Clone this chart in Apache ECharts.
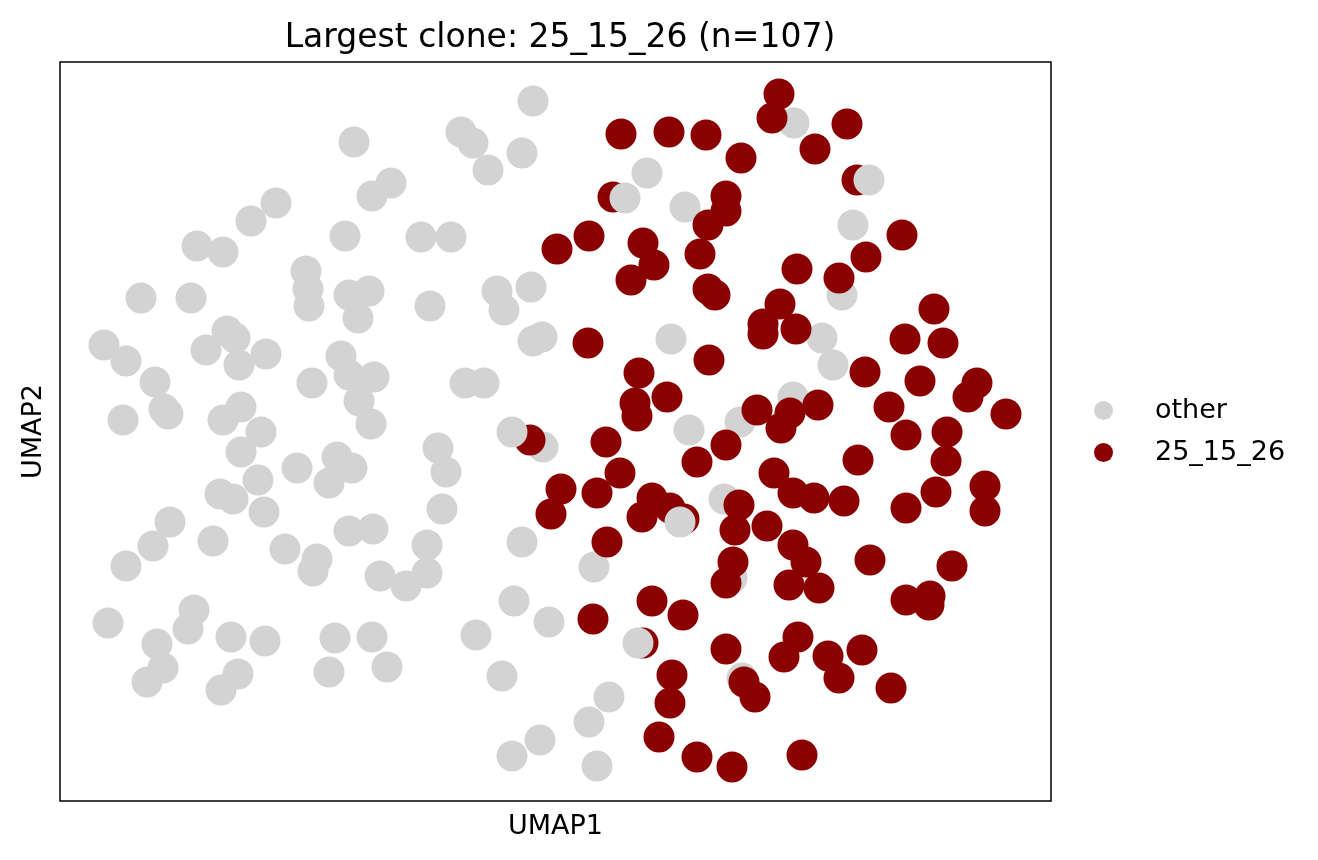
<!DOCTYPE html>
<html>
<head>
<meta charset="utf-8">
<script src="https://cdn.jsdelivr.net/npm/echarts@6/dist/echarts.min.js"></script>
<style>
  html, body { margin: 0; padding: 0; background: #fff; }
  #chart { width: 1318px; height: 860px; }
</style>
</head>
<body>
<div id="chart"></div>
<script>
'use strict';

// UMAP coordinates (arbitrary units, y grows downwards)
var titleText = 'Largest clone: 25_15_26 (n=107)';
var legendNames = ['other', '25_15_26'];

// cells outside the clone, drawn below the clone
var otherBack = [
    [533,101],[461,132],[473,143],[354,142],[522,153],[488,170],[391,183],[372,196],
    [276,203],[251,221],[197,246],[223,252],[345,236],[421,237],[451,237],[306,271],
    [308,289],[309,306],[349,295],[369,291],[358,318],[141,298],[191,298],[430,306],
    [497,291],[531,287],[504,310],[104,345],[126,361],[227,331],[235,338],[206,350],
    [266,354],[239,365],[341,356],[349,375],[374,377],[312,383],[155,382],[164,409],
    [168,414],[123,420],[241,407],[223,420],[359,401],[371,424],[261,432],[533,341],
    [542,337],[465,383],[484,383],[543,447],[438,448],[446,472],[442,509],[241,452],
    [297,468],[337,457],[352,468],[329,483],[258,480],[220,494],[233,499],[264,512],
    [170,522],[153,546],[126,566],[213,541],[285,549],[317,559],[313,571],[349,531],
    [373,529],[380,576],[406,586],[427,545],[427,573],[522,542],[594,567],[514,601],
    [549,622],[108,623],[194,610],[188,629],[157,644],[163,668],[147,682],[231,637],
    [265,641],[238,674],[221,690],[335,638],[372,637],[329,672],[387,667],[476,635],
    [502,676],[609,697],[589,722],[540,740],[512,756],[597,766],
    [647,173],[685,207],[794,123],[853,225],[842,295],[671,339],[822,338],[833,365],
    [740,422],[793,397],[689,430],[724,499],[732,578],[742,678]
];

// cells of the largest clone
var clone = [
    [621,134],[669,132],[706,135],[741,158],[779,94],[772,118],[847,124],[815,149],
    [857,180],[613,197],[726,196],[726,211],[708,225],[557,249],[589,236],[643,243],
    [654,265],[631,280],[700,254],[708,289],[715,295],[797,269],[839,278],[866,257],
    [902,235],[780,304],[763,324],[763,334],[796,329],[588,343],[709,360],[639,373],
    [667,397],[635,403],[637,416],[865,372],[934,309],[905,339],[943,343],[920,381],
    [977,383],[968,397],[1006,414],[889,407],[906,435],[947,432],[818,405],[757,410],
    [781,428],[790,413],[530,440],[606,442],[697,462],[726,445],[561,489],[551,514],
    [597,493],[620,473],[652,498],[642,517],[670,508],[684,519],[607,542],[593,619],
    [652,601],[683,615],[672,675],[670,703],[659,737],[697,757],[732,767],[643,643],
    [946,461],[858,460],[774,473],[793,493],[814,498],[844,501],[906,508],[936,492],
    [985,486],[985,511],[739,505],[735,530],[767,526],[793,545],[806,562],[789,585],
    [819,588],[733,562],[726,583],[870,560],[952,566],[906,600],[930,596],[929,605],
    [726,649],[798,637],[784,657],[828,656],[839,678],[862,650],[744,682],[755,697],
    [891,688],[802,755]
];

// cells outside the clone that ended up drawn on top
var otherFront = [[625,198],[869,180],[638,643],[680,522],[512,432]];

var xRange = [60, 1051];
var yRange = [62, 801];

var grey = '#d3d3d3';
var darkRed = '#8b0000';
var font = 'DejaVu Sans';

var myChart = echarts.init(document.getElementById('chart'));

var dotSeries = function (name, data, color) {
    return {
        name: name,
        type: 'scatter',
        data: data,
        symbol: 'circle',
        symbolSize: 31,
        itemStyle: { color: color, opacity: 1 },
        emphasis: { disabled: true },
        animation: false
    };
};

var axisName = { fontFamily: font, fontSize: 27, color: '#000', lineHeight: 27 };

var option = {
    backgroundColor: '#fff',
    animation: false,
    title: {
        text: titleText,
        left: 555,
        textAlign: 'center',
        top: 15,
        textStyle: { fontFamily: font, fontSize: 33, fontWeight: 'normal', color: '#000', lineHeight: 36 }
    },
    legend: {
        data: legendNames,
        orient: 'vertical',
        left: 1094,
        top: 397,
        padding: 0,
        itemWidth: 19,
        itemHeight: 19,
        itemGap: 15,
        icon: 'circle',
        textStyle: { fontFamily: font, fontSize: 27, color: '#000', lineHeight: 27, padding: [0, 0, 0, 37] }
    },
    grid: {
        left: xRange[0], top: yRange[0],
        width: xRange[1] - xRange[0], height: yRange[1] - yRange[0],
        show: true, borderColor: '#000', borderWidth: 1.5, backgroundColor: '#fff'
    },
    xAxis: {
        type: 'value', min: xRange[0], max: xRange[1],
        name: 'UMAP1', nameLocation: 'middle', nameGap: 12, nameTextStyle: axisName,
        axisLine: { show: false }, axisTick: { show: false },
        axisLabel: { show: false }, splitLine: { show: false }
    },
    yAxis: {
        type: 'value', min: yRange[0], max: yRange[1], inverse: true,
        name: 'UMAP2', nameLocation: 'middle', nameGap: 13, nameTextStyle: axisName,
        axisLine: { show: false }, axisTick: { show: false },
        axisLabel: { show: false }, splitLine: { show: false }
    },
    series: [
        dotSeries('other', otherBack, grey),
        dotSeries('25_15_26', clone, darkRed),
        dotSeries('other', otherFront, grey)
    ]
};

myChart.setOption(option);
</script>
</body>
</html>
